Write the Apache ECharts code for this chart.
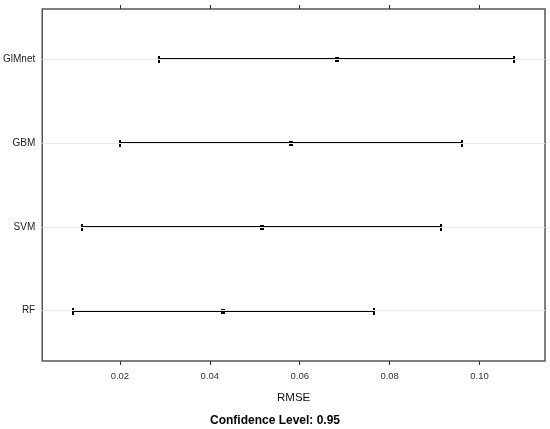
<!DOCTYPE html>
<html>
<head>
<meta charset="utf-8">
<script src="https://cdn.jsdelivr.net/npm/echarts@6/dist/echarts.min.js"></script>
<style>
html,body{margin:0;padding:0;background:#fff;}
#chart{width:550px;height:429px;}
</style>
</head>
<body>
<div id="chart"></div>
<script>
// Data (bottom to top)
const categories = ['RF', 'SVM', 'GBM', 'GlMnet'];
const lowerCI = [0.0096, 0.0116, 0.0200, 0.0286];
const upperCI = [0.0765, 0.0914, 0.0962, 0.1076];
const meanRMSE = [0.0430, 0.0515, 0.0581, 0.0682];
const xTicks = [0.02, 0.04, 0.06, 0.08, 0.10];
const xLabels = ['0.02', '0.04', '0.06', '0.08', '0.10'];

const chart = echarts.init(document.getElementById('chart'), null, {renderer: 'canvas'});
const barData = categories.map((c, i) => [lowerCI[i], upperCI[i], meanRMSE[i], i + 1]);
const font = 'Liberation Sans, Arial, sans-serif';

const option = {
  animation: false,
  backgroundColor: '#fff',
  title: {
    text: 'Confidence Level: 0.95',
    left: 'center',
    top: 410,
    textStyle: {fontFamily: font, fontSize: 12, fontWeight: 'bold', color: '#000'}
  },
  grid: {
    left: 40, right: 5, top: 9, bottom: 68,
    show: true, borderColor: '#555', borderWidth: 1.5, backgroundColor: '#fff'
  },
  xAxis: [{
    type: 'value', position: 'bottom',
    min: 0.00273, max: 0.11455,
    name: 'RMSE', nameLocation: 'middle', nameGap: 31,
    nameTextStyle: {fontFamily: font, fontSize: 11.5, color: '#111'},
    axisLine: {show: false},
    splitLine: {show: false},
    axisTick: {show: true, inside: false, length: 4, customValues: xTicks, lineStyle: {color: '#333', width: 1}},
    axisLabel: {
      customValues: xTicks, margin: 10,
      fontFamily: font, fontSize: 9.5, color: '#333',
      formatter: v => xLabels[xTicks.findIndex(t => Math.abs(t - v) < 1e-9)] || ''
    }
  }, {
    type: 'value', position: 'top',
    min: 0.00273, max: 0.11455,
    axisLine: {show: false},
    splitLine: {show: false},
    axisTick: {show: true, inside: false, length: 4, customValues: xTicks, lineStyle: {color: '#333', width: 1}},
    axisLabel: {show: false}
  }],
  yAxis: {
    type: 'value', min: 0.4, max: 4.6,
    axisLine: {show: false},
    axisTick: {show: false},
    splitLine: {show: false},
    axisLabel: {
      customValues: [1, 2, 3, 4], margin: 7,
      fontFamily: font, fontSize: 10, color: '#222',
      formatter: v => categories[Math.round(v) - 1] || ''
    }
  },
  series: [{
    type: 'line', data: [], z: 1, silent: true,
    markLine: {
      silent: true, symbol: ['none', 'none'], label: {show: false},
      lineStyle: {color: '#ebebeb', width: 1, type: 'solid'},
      data: categories.map((c, i) => ({yAxis: i + 1}))
    }
  }, {
    type: 'custom', z: 3, silent: true,
    encode: {x: [0, 1, 2], y: 3},
    data: barData,
    renderItem: function (params, api) {
      const y = api.value(3);
      const lo = api.coord([api.value(0), y]);
      const hi = api.coord([api.value(1), y]);
      const m = api.coord([api.value(2), y]);
      const yy = Math.round(m[1]);
      const x0 = Math.round(lo[0]), x1 = Math.round(hi[0]), xm = Math.round(m[0]);
      const fill = {fill: '#000', stroke: null};
      return {
        type: 'group',
        children: [
          {type: 'rect', shape: {x: x0, y: yy - 1, width: x1 - x0, height: 2}, style: fill},
          {type: 'rect', shape: {x: x0 - 1, y: yy - 3, width: 2, height: 7}, style: fill},
          {type: 'rect', shape: {x: x1 - 1, y: yy - 3, width: 2, height: 7}, style: fill},
          {type: 'rect', shape: {x: xm - 2, y: yy - 2, width: 4, height: 5}, style: fill}
        ]
      };
    }
  }]
};
chart.setOption(option);
</script>
</body>
</html>
